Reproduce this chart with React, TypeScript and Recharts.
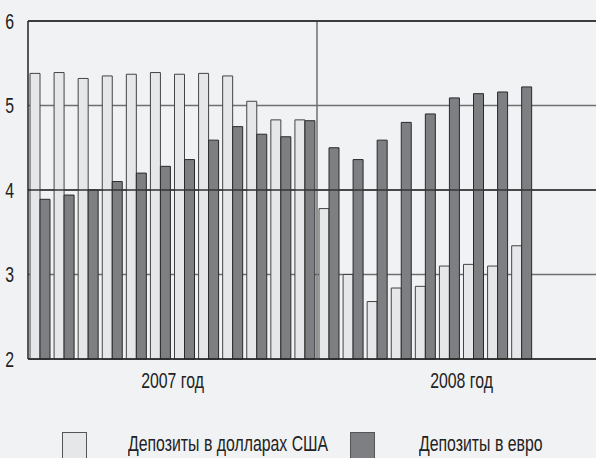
import { BarChart, Bar, XAxis, YAxis, CartesianGrid, ReferenceLine } from 'recharts';

const months = [
  '2007-01', '2007-02', '2007-03', '2007-04', '2007-05', '2007-06',
  '2007-07', '2007-08', '2007-09', '2007-10', '2007-11', '2007-12',
  '2008-01', '2008-02', '2008-03', '2008-04', '2008-05', '2008-06',
  '2008-07', '2008-08', '2008-09', '2008-10', '2008-11', '2008-12',
];

const usdRates = [
  5.38, 5.39, 5.32, 5.35, 5.37, 5.39, 5.37, 5.38, 5.35, 5.05, 4.83, 4.83,
  3.78, 3.0, 2.68, 2.84, 2.86, 3.1, 3.12, 3.1, 3.34, null, null, null,
];

const eurRates = [
  3.89, 3.94, 4.0, 4.1, 4.2, 4.28, 4.36, 4.59, 4.75, 4.66, 4.63, 4.82,
  4.5, 4.36, 4.59, 4.8, 4.9, 5.09, 5.14, 5.16, 5.22, null, null, null,
];

const yTicks = [2, 3, 4, 5, 6];
const yearLabels: Record<string, string> = { '2007-06': '2007 год', '2008-06': '2008 год' };

const usdName = 'Депозиты в долларах США';
const eurName = 'Депозиты в евро';

// no condensed font installed, so Liberation Sans squeezed horizontally
const FONT = "'Liberation Sans', sans-serif";
const FS = 22;
const SQ = 0.72;
const LIGHT = '#e6e7e9';
const DARK = '#7e7f83';

const data = months.map((m, i) => ({ m, usd: usdRates[i], eur: eurRates[i] }));

const W = 606;
const LEFT = 28;
const BAND = (W - LEFT) / months.length;

function YearTick({ x, y, payload }: any) {
  const label = yearLabels[payload.value];
  if (!label) return null;
  return (
    <g transform={`translate(${x + BAND / 2},${y + 21})`}>
      <text transform={`scale(${SQ},1)`} textAnchor="middle" fontFamily={FONT} fontSize={FS} fill="#222">
        {label}
      </text>
    </g>
  );
}

function ValueTick({ x, y, payload }: any) {
  return (
    <g transform={`translate(${x},${y})`}>
      <text transform={`scale(${SQ},1)`} textAnchor="end" dy="0.36em" fontFamily={FONT} fontSize={FS} fill="#222">
        {payload.value}
      </text>
    </g>
  );
}

const legendItems = [
  { name: usdName, color: LIGHT, box: 62, text: 128 },
  { name: eurName, color: DARK, box: 350, text: 419 },
];

export default function App() {
  return (
    <div style={{ position: 'absolute', left: 0, top: 0, width: 596, height: 458, overflow: 'hidden', background: '#f1f2f4' }}>
      <BarChart
        width={W}
        height={458}
        data={data}
        margin={{ top: 21, right: 0, left: 0, bottom: 59 }}
        barCategoryGap={2}
        barGap={0}
      >
        <CartesianGrid stroke="#6f6f6f" strokeWidth={1.5} vertical={false} />
        <ReferenceLine x="2008-01" stroke="#6f6f6f" strokeWidth={1.5} position="start" />
        <ReferenceLine y={4} stroke="#333" strokeWidth={1.5} />
        <ReferenceLine y={6} stroke="#222" strokeWidth={1.5} />
        <XAxis
          dataKey="m"
          interval={0}
          tick={<YearTick />}
          tickLine={false}
          axisLine={{ stroke: '#222', strokeWidth: 1.5 }}
          height={40}
        />
        <YAxis
          domain={[2, 6]}
          ticks={yTicks}
          width={LEFT}
          tickLine={false}
          axisLine={{ stroke: '#222', strokeWidth: 1.5 }}
          tickMargin={8}
          tick={<ValueTick />}
        />
        <Bar dataKey="usd" name={usdName} fill={LIGHT} stroke="#444" strokeWidth={1} isAnimationActive={false} />
        <Bar dataKey="eur" name={eurName} fill={DARK} stroke="#2a2a2a" strokeWidth={1} isAnimationActive={false} />
      </BarChart>
      {legendItems.map((it) => (
        <div key={it.name}>
          <div
            style={{
              position: 'absolute', left: it.box, top: 432, width: 25, height: 30,
              background: it.color, border: '1px solid #555', boxSizing: 'border-box',
            }}
          />
          <div
            style={{
              position: 'absolute', left: it.text, top: 431, whiteSpace: 'nowrap',
              fontFamily: FONT, fontSize: FS, color: '#222', lineHeight: '26px',
              transform: `scaleX(${SQ})`, transformOrigin: 'left top',
            }}
          >
            {it.name}
          </div>
        </div>
      ))}
    </div>
  );
}
